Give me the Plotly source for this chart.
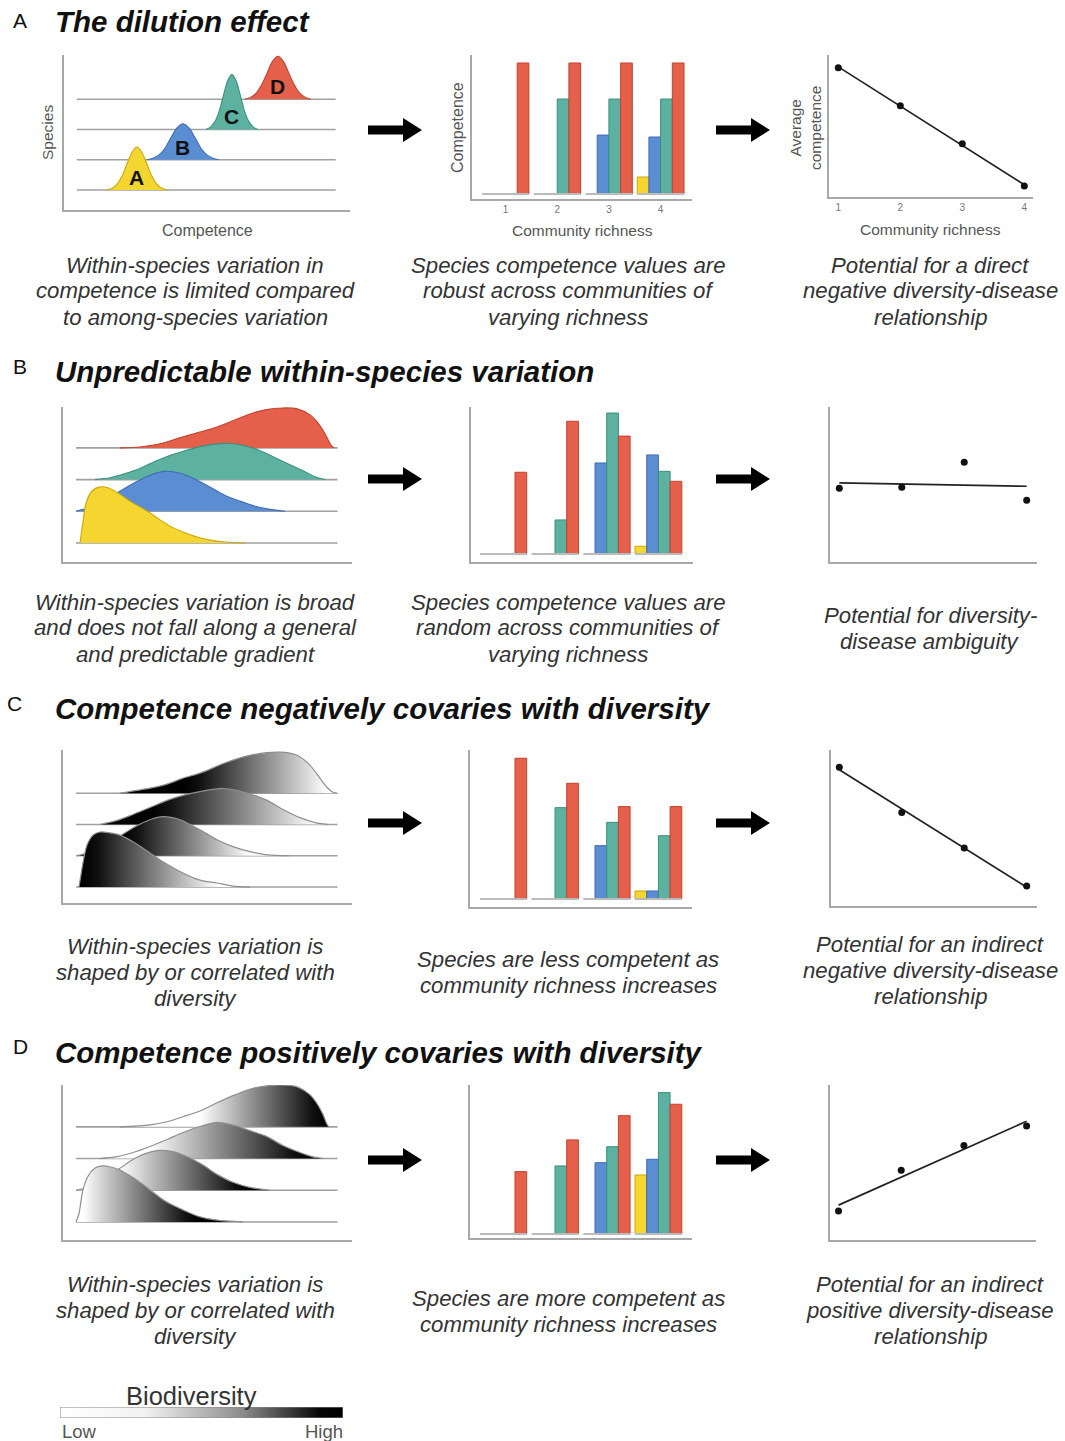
import numpy as np
import plotly.graph_objects as go

W, H = 1065, 1441
FONT = "Liberation Sans, Arial, Helvetica, sans-serif"

# ---------------- data ----------------
species = ["A", "B", "C", "D"]
levels = [0, 1, 2, 3]
richness = [1, 2, 3, 4]
richness_labels = ["1", "2", "3", "4"]

# Ridgeline densities (competence 0-100, density in row-spacing units)
ridgeA_x = [
    [15.0, 16.8, 18.5, 20.3, 22.0, 23.8, 25.5, 27.2, 29.0, 30.7, 32.5, 34.2, 36.0],
    [29.0, 31.1, 33.2, 35.3, 37.4, 39.5, 41.6, 43.7, 45.8, 47.9, 50.0, 52.1, 54.2],
    [49.7, 51.2, 52.7, 54.2, 55.7, 57.2, 58.7, 60.2, 61.7, 63.2, 64.7, 66.2, 67.7],
    [63.3, 65.2, 67.1, 69.0, 71.0, 72.9, 74.8, 76.7, 78.6, 80.6, 82.5, 84.4, 86.3],
]
ridgeA_d = [
    [0, 0.06, 0.19, 0.46, 0.86, 1.25, 1.42, 1.25, 0.86, 0.46, 0.19, 0.06, 0],
    [0, 0.05, 0.16, 0.38, 0.73, 1.05, 1.19, 1.05, 0.73, 0.38, 0.16, 0.05, 0],
    [0, 0.08, 0.25, 0.58, 1.11, 1.60, 1.82, 1.60, 1.11, 0.58, 0.25, 0.08, 0],
    [0, 0.06, 0.19, 0.46, 0.86, 1.25, 1.42, 1.25, 0.86, 0.46, 0.19, 0.06, 0],
]
ridgeB_x = [
    [5.9, 6.6, 8.0, 10.0, 12.8, 15.6, 19.0, 23.2, 26.6, 30.1, 33.6, 37.7, 41.5, 46.4, 50.9, 56.1, 63.0],
    [4.5, 9.3, 14.5, 19.7, 24.9, 30.1, 35.3, 40.5, 45.7, 50.9, 56.1, 61.2, 66.4, 71.6, 76.8],
    [11.1, 16.3, 21.5, 26.6, 31.8, 37.0, 42.2, 47.4, 52.6, 57.8, 63.0, 68.2, 73.4, 78.5, 83.7, 87.2, 90.7],
    [19.7, 26.6, 33.6, 41.5, 47.4, 53.3, 59.5, 64.7, 69.9, 76.1, 81.0, 85.5, 88.2, 90.7, 92.7, 93.8],
]
ridgeB_d = [
    [0, 0.47, 1.26, 1.64, 1.77, 1.74, 1.58, 1.32, 1.14, 0.95, 0.73, 0.50, 0.35, 0.19, 0.09, 0.03, 0],
    [0, 0.13, 0.35, 0.63, 0.91, 1.14, 1.26, 1.20, 1.01, 0.76, 0.50, 0.32, 0.16, 0.06, 0],
    [0, 0.06, 0.19, 0.35, 0.57, 0.76, 0.91, 1.04, 1.12, 1.14, 1.07, 0.91, 0.69, 0.47, 0.25, 0.09, 0],
    [0, 0.03, 0.13, 0.35, 0.50, 0.66, 0.88, 1.07, 1.20, 1.26, 1.23, 1.04, 0.79, 0.44, 0.09, 0],
]
ridgeC_x = [
    [5.5, 6.2, 6.9, 8.3, 10.4, 12.8, 16.3, 19.7, 24.9, 30.1, 35.3, 41.5, 47.4, 53.3, 58.8, 64.7],
    [4.5, 9.3, 14.5, 20.4, 24.9, 30.1, 34.6, 40.5, 47.4, 53.3, 58.8, 64.7, 70.6, 78.5],
    [12.8, 18.7, 24.2, 30.1, 36.0, 41.5, 47.4, 55.4, 63.0, 70.6, 76.1, 82.0, 87.2, 91.3],
    [19.7, 30.1, 36.0, 41.5, 47.4, 56.7, 64.7, 75.1, 81.0, 85.5, 88.9, 91.3, 93.4, 94.5],
]
ridgeC_d = [
    [0, 0.38, 0.77, 1.34, 1.66, 1.76, 1.73, 1.66, 1.41, 1.09, 0.77, 0.45, 0.22, 0.13, 0.03, 0],
    [0, 0.10, 0.29, 0.67, 0.93, 1.15, 1.25, 1.15, 0.83, 0.51, 0.29, 0.13, 0.03, 0],
    [0, 0.13, 0.32, 0.54, 0.77, 0.93, 1.05, 1.15, 1.02, 0.77, 0.48, 0.22, 0.06, 0],
    [0, 0.16, 0.29, 0.48, 0.64, 0.99, 1.21, 1.31, 1.21, 0.89, 0.48, 0.19, 0.03, 0],
]
ridgeD_x = [
    [4.5, 5.5, 6.9, 8.7, 11.1, 13.5, 16.3, 19.7, 24.9, 30.1, 35.3, 41.5, 47.4, 53.3, 62.3],
    [4.5, 9.3, 14.5, 19.7, 24.9, 30.1, 33.6, 38.8, 47.4, 53.3, 58.8, 64.7, 71.6],
    [12.8, 18.7, 24.2, 30.1, 36.0, 41.5, 47.4, 53.3, 59.5, 64.7, 70.6, 76.1, 82.0, 86.2, 90.0],
    [19.7, 30.1, 36.0, 41.5, 47.4, 53.3, 59.5, 66.4, 75.1, 81.0, 85.5, 88.2, 90.0, 91.3, 92.0],
]
ridgeD_d = [
    [0, 0.25, 1.01, 1.45, 1.70, 1.77, 1.74, 1.64, 1.36, 1.01, 0.66, 0.38, 0.16, 0.06, 0],
    [0, 0.09, 0.32, 0.69, 1.01, 1.20, 1.26, 1.20, 0.85, 0.50, 0.25, 0.09, 0],
    [0, 0.06, 0.19, 0.38, 0.60, 0.82, 1.01, 1.14, 1.04, 0.88, 0.69, 0.41, 0.19, 0.06, 0],
    [0, 0.06, 0.16, 0.32, 0.50, 0.76, 1.01, 1.23, 1.32, 1.26, 1.01, 0.69, 0.38, 0.09, 0],
]

# Species competence per community richness (rows: species A, B, C, D)
barsA = [[None, None, None, 1.30], [None, None, 4.50, 4.35], [None, 7.25, 7.25, 7.25], [10.0, 10.0, 10.0, 10.0]]
barsB = [[None, None, None, 0.59], [None, None, 6.95, 7.56], [None, 2.60, 10.76, 6.31], [6.24, 10.13, 9.00, 5.55]]
barsC = [[None, None, None, 0.61], [None, None, 4.07, 0.61], [None, 6.97, 5.85, 4.83], [10.74, 8.83, 7.05, 7.05]]
barsD = [[None, None, None, 4.50], [None, None, 5.44, 5.70], [None, 5.19, 6.66, 10.79], [4.76, 7.18, 9.03, 9.90]]

# Average competence per community richness
avgA = [10.0, 8.63, 7.25, 5.73]
avgB = [6.24, 6.35, 8.90, 5.00]
avgC = [10.74, 7.90, 5.66, 3.28]
avgD = [4.76, 6.18, 7.04, 7.72]

panel_letters = ["A", "B", "C", "D"]
panel_titles = [
    "The dilution effect",
    "Unpredictable within-species variation",
    "Competence negatively covaries with diversity",
    "Competence positively covaries with diversity",
]
captions = [
    [["Within-species variation in", "competence is limited compared", "to among-species variation"],
     ["Species competence values are", "robust across communities of", "varying richness"],
     ["Potential for a direct", "negative diversity-disease", "relationship"]],
    [["Within-species variation is broad", "and does not fall along a general", "and predictable gradient"],
     ["Species competence values are", "random across communities of", "varying richness"],
     ["Potential for diversity-", "disease ambiguity"]],
    [["Within-species variation is", "shaped by or correlated with", "diversity"],
     ["Species are less competent as", "community richness increases"],
     ["Potential for an indirect", "negative diversity-disease", "relationship"]],
    [["Within-species variation is", "shaped by or correlated with", "diversity"],
     ["Species are more competent as", "community richness increases"],
     ["Potential for an indirect", "positive diversity-disease", "relationship"]],
]

# ---------------- styles ----------------
FILLS = ["#F5D530", "#5B8DD2", "#5DB1A0", "#E5604A"]
EDGES = ["#C9A80A", "#3F6DB5", "#3D8F7F", "#BF4330"]
AXIS = "#A8A8A8"
BASE = "#A0A0A0"
TXT = "#333333"
LBL = "#555555"
BASE_EXTENT = [4.5, 95.0]

fig = go.Figure()
layout = dict(width=W, height=H, margin=dict(l=0, r=0, t=0, b=0),
              paper_bgcolor="white", plot_bgcolor="white", showlegend=False,
              barmode="group", bargap=0.095, bargroupgap=0, template="none",
              font=dict(family=FONT), hovermode=False)


def px2x(x):
    return x / W


def px2y(y):
    return 1 - y / H


def make_axes(n, frame, xr, yr, tickvals=None, ticktext=None, line=True):
    x0, x1, y0, y1 = frame
    s = "" if n == 1 else str(n)
    layout["xaxis" + s] = dict(domain=[px2x(x0), px2x(x1)], range=xr, anchor="y" + s,
                               showline=line, linecolor=AXIS, linewidth=2, showgrid=False,
                               zeroline=False, ticks="", showticklabels=tickvals is not None,
                               tickvals=tickvals, ticktext=ticktext,
                               tickfont=dict(size=10, color="#777777", family=FONT),
                               automargin=False, fixedrange=True)
    layout["yaxis" + s] = dict(domain=[px2y(y1), px2y(y0)], range=yr, anchor="x" + s,
                               showline=line, linecolor=AXIS, linewidth=2, showgrid=False,
                               zeroline=False, ticks="", showticklabels=False,
                               automargin=False, fixedrange=True)
    return "x" + s, "y" + s


ridge_frames = [(64, 350, 55, 210), (63, 352, 407, 562), (63, 352, 750, 903), (63, 352, 1085, 1240)]
ridge_yr = [[-0.66, 4.46], [-0.60, 4.29], [-0.51, 4.38], [-0.57, 4.32]]
bar_frames = [(472, 692, 55, 199), (471, 693, 407, 562), (470, 692, 750, 907), (470, 692, 1085, 1238)]
bar_xr = [[0.352, 4.607], [0.375, 4.669], [0.356, 4.65], [0.356, 4.65]]
bar_yr = [[-0.38, 10.61], [-0.61, 11.22], [-0.61, 11.37], [-0.31, 11.37]]
line_frames = [(829, 1033, 55, 197), (830, 1037, 407, 562), (831, 1037, 750, 906), (830, 1036, 1085, 1240)]
line_xr = [[0.85, 4.14], [0.851, 4.165], [0.867, 4.165], [0.864, 4.15]]
line_yr = [[5.33, 10.46], [-1.32, 14.57], [2.02, 11.83], [3.75, 9.15]]

ridges = [(ridgeA_x, ridgeA_d), (ridgeB_x, ridgeB_d), (ridgeC_x, ridgeC_d), (ridgeD_x, ridgeD_d)]
bars = [barsA, barsB, barsC, barsD]
avgs = [avgA, avgB, avgC, avgD]
grad_mode = [None, None, "dark_low", "dark_high"]

annotations = []
shapes = []


def txt(x, y, text, size, color=TXT, xanchor="center", angle=0, xref="paper", yref="paper"):
    if xref == "paper":
        x = px2x(x)
    if yref == "paper":
        y = px2y(y)
    annotations.append(dict(x=x, y=y, xref=xref, yref=yref, text=text, showarrow=False,
                            xanchor=xanchor, yanchor="middle", textangle=angle,
                            font=dict(size=size, color=color, family=FONT)))


n = 1
for row in range(4):
    # ---- ridgeline panel ----
    xa, ya = make_axes(n, ridge_frames[row], [0, 100], ridge_yr[row])
    xs, ds = ridges[row]
    for lvl in reversed(range(4)):
        base = levels[lvl]
        fig.add_trace(go.Scatter(x=BASE_EXTENT, y=[base, base], mode="lines",
                                 line=dict(color=BASE, width=1.6), xaxis=xa, yaxis=ya,
                                 hoverinfo="skip"))
        x = xs[lvl]
        d = ds[lvl]
        y = [base + v for v in d]
        kw = {}
        mode = grad_mode[row]
        if mode is None:
            kw["fillcolor"] = FILLS[lvl]
            lc, lw = EDGES[lvl], 1.1
        else:
            dmax = max(d)
            i0 = next(i for i, v in enumerate(d) if v >= 0.3 * dmax)
            i1 = max(i for i, v in enumerate(d) if v >= 0.05 * dmax)
            cs = [[0, "#000000"], [0.12, "#111111"], [1, "#ffffff"]] if mode == "dark_low" \
                else [[0, "#ffffff"], [0.88, "#111111"], [1, "#000000"]]
            kw["fillgradient"] = dict(type="horizontal", colorscale=cs, start=x[i0], stop=x[i1])
            lc, lw = "#8f8f8f", 1.2
        fig.add_trace(go.Scatter(x=x, y=y, mode="lines", fill="toself",
                                 line=dict(color=lc, width=lw, shape="spline", smoothing=0.8),
                                 xaxis=xa, yaxis=ya, hoverinfo="skip", **kw))
        if row == 0:
            ipk = int(np.argmax(d))
            annotations.append(dict(x=x[ipk], y=base + 0.42, xref=xa, yref=ya,
                                    text="<b>" + species[lvl] + "</b>",
                                    showarrow=False, xanchor="center", yanchor="middle",
                                    font=dict(size=21, color="#111111", family=FONT)))
    n += 1

    # ---- bar panel ----
    tv = richness if row == 0 else None
    tt = richness_labels if row == 0 else None
    xa, ya = make_axes(n, bar_frames[row], bar_xr[row], bar_yr[row], tv, tt)
    gx, gy = [], []
    for r in richness:
        gx += [r - 0.4525, r + 0.4525, None]
        gy += [0, 0, None]
    fig.add_trace(go.Scatter(x=gx, y=gy, mode="lines", line=dict(color="#BBBBBB", width=2),
                             xaxis=xa, yaxis=ya, hoverinfo="skip"))
    for i, sp in enumerate(species):
        fig.add_trace(go.Bar(x=richness, y=bars[row][i], name=sp,
                             marker=dict(color=FILLS[i], line=dict(color=EDGES[i], width=1)),
                             xaxis=xa, yaxis=ya, hoverinfo="skip"))
    n += 1

    # ---- average competence panel ----
    xa, ya = make_axes(n, line_frames[row], line_xr[row], line_yr[row], tv, tt)
    slope, icpt = np.polyfit(richness, avgs[row], 1)
    fx = [richness[0], richness[-1]]
    fy = [icpt + slope * v for v in fx]
    fig.add_trace(go.Scatter(x=fx, y=fy, mode="lines", line=dict(color="#222222", width=1.7),
                             xaxis=xa, yaxis=ya, hoverinfo="skip"))
    fig.add_trace(go.Scatter(x=richness, y=avgs[row], mode="markers",
                             marker=dict(color="#111111", size=7), xaxis=xa, yaxis=ya,
                             hoverinfo="skip", cliponaxis=False))
    n += 1

# ---- legend gradient bar ----
xa, ya = make_axes(n, (60, 343, 1407, 1418), [0, 1], [0, 1], line=False)
fig.add_trace(go.Scatter(x=[0, 1, 1, 0, 0], y=[0, 0, 1, 1, 0], mode="lines", fill="toself",
                         fillgradient=dict(type="horizontal",
                                           colorscale=[[0, "#ffffff"], [0.3, "#f2f2f2"],
                                                       [0.65, "#8a8a8a"], [0.92, "#050505"],
                                                       [1, "#000000"]], start=0, stop=1),
                         line=dict(color="#888888", width=1), xaxis=xa, yaxis=ya, hoverinfo="skip"))

# ---- texts ----
title_y = [21, 372, 708, 1052]
letter_pos = [(20, 20), (20, 366), (14, 703), (20, 1046)]
for row in range(4):
    lx, ly = letter_pos[row]
    txt(lx, ly, panel_letters[row], 21, "#111111")
    txt(53, title_y[row], "<b><i>" + panel_titles[row] + "</i></b>", 29.5, "#111111", xanchor="left")

cap_cx = [195, 568, 930]
cap_y0 = [[265, 265, 265], [602, 602, 615], [946, 959, 944], [1284, 1298, 1284]]
for row in range(4):
    for col in range(3):
        for k, line_txt in enumerate(captions[row][col]):
            txt(cap_cx[col], cap_y0[row][col] + 26 * k, "<i>" + line_txt + "</i>", 22.2, TXT)

# axis labels of panel A
txt(207, 231, "Competence", 16, LBL)
txt(48, 133, "Species", 15.5, LBL, angle=-90)
txt(457, 128, "Competence", 16, LBL, angle=-90)
txt(582, 230, "Community richness", 15.5, LBL)
txt(805, 128, "Average<br>competence", 15.5, LBL, angle=-90)
txt(930, 229, "Community richness", 15.5, LBL)

# legend text
txt(191, 1396, "Biodiversity", 25.5, "#333333")
txt(60, 1431, "Low", 18.5, "#555555", xanchor="left")
txt(345, 1431, "High", 18.5, "#555555", xanchor="right")


# ---- arrows ----
def arrow(x0, yc, L=54, shaft=35, sh=4.5, hh=12):
    pts = [(x0, yc - sh), (x0 + shaft, yc - sh), (x0 + shaft, yc - hh), (x0 + L, yc),
           (x0 + shaft, yc + hh), (x0 + shaft, yc + sh), (x0, yc + sh)]
    path = "M " + " L ".join(f"{px2x(a):.5f},{px2y(b):.5f}" for a, b in pts) + " Z"
    shapes.append(dict(type="path", path=path, xref="paper", yref="paper",
                       fillcolor="#000000", line=dict(width=0)))


for yc in [130, 479, 823, 1160]:
    arrow(368, yc)
    arrow(716, yc)

layout["annotations"] = annotations
layout["shapes"] = shapes
fig.update_layout(**layout)

fig.write_html("out.html", config={"staticPlot": True},
               post_script="document.body.style.margin='0';")
